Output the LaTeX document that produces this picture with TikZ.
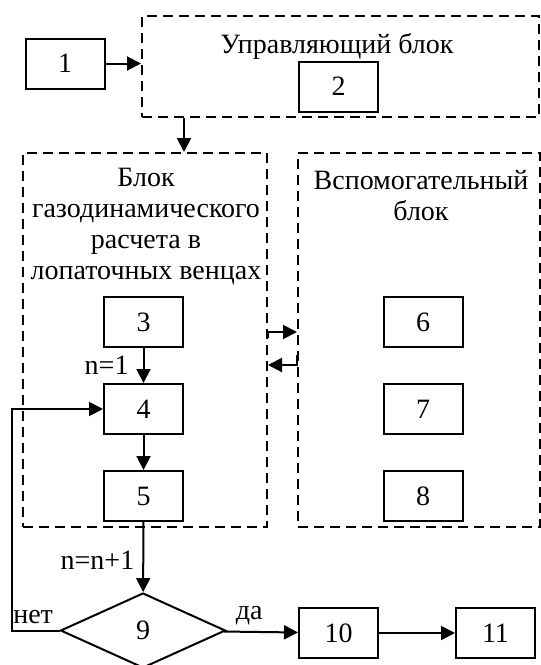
\documentclass[tikz,border=0pt]{standalone}
\usepackage{fontspec}
\setmainfont{Liberation Serif}
\usetikzlibrary{arrows.meta,positioning,shapes.geometric}
\tikzset{
    %Define standard arrow tip
    >={Triangle[length=7pt,width=7pt]},
    %Define style for boxes
    numbox/.style={
           rectangle,
           draw=black, line width=1pt,
           minimum width=39.5pt,
           minimum height=25pt,
           font=\fontsize{14}{15.5}\selectfont,
           text centered},
    groupbox/.style={
           rectangle,
           draw=black, line width=1pt,
           dash pattern=on 5pt off 3pt,
           inner sep=0pt},
    choice/.style={
           diamond,
           draw=black, line width=1pt,
           minimum width=82.5pt,
           minimum height=37.5pt,
           aspect=2.2,
           inner sep=0pt,
           font=\fontsize{14}{15.5}\selectfont},
    lbl/.style={
           font=\fontsize{14}{15.5}\selectfont,
           inner sep=0pt},
    % Define arrow style
    pil/.style={
           ->,
           line width=1pt}
}

\begin{document}
\begin{tikzpicture}[x=0.5pt,y=-0.5pt,node distance=17.5pt]
\useasboundingbox (0,0) rectangle (541,665);
 %groups
\node[groupbox, minimum width=198.5pt, minimum height=50.5pt] (ctrl) at (340.5,66.5) {};
\node[groupbox, minimum width=122pt, minimum height=187pt] (gasdyn) at (145,340) {};
\node[groupbox, minimum width=121pt, minimum height=187pt] (aux) at (419,340) {};
\node[lbl] (tctrl) at (337,46) {Управляющий блок};
\node[lbl, align=center] (tgas) at (146,227) {Блок\\газодинамического\\расчета в\\лопаточных венцах};
\node[lbl, align=center] (taux) at (421,196) {Вспомогательный\\блок};
 %nodes
\node[numbox] (1) at (65,63.5) {1};
\node[numbox] (2) at (338.5,86.5) {2};
\node[numbox] (3) at (143.5,322) {3};
\node[numbox, below=of 3] (4) {4};
\node[numbox, below=of 4] (5) {5};
\node[numbox] (6) at (423,322) {6};
\node[numbox, below=of 6] (7) {7};
\node[numbox, below=of 7] (8) {8};
\node[choice] (9) at (143,630.5) {9};
\node[numbox] (10) at (338.5,633) {10};
\node[numbox, right=38pt of 10] (11) {11};
 %edges
\draw[pil] (1) -- (1 -| ctrl.west);
\draw[pil] ([xshift=21.5pt]ctrl.south west) -- ([xshift=81pt]gasdyn.north west);
\draw[pil] ([yshift=1pt]gasdyn.east) |- ([yshift=4pt]aux.west);
\draw[pil] ([yshift=-7.5pt]aux.west) |- ([yshift=-12.5pt]gasdyn.east);
\draw[pil] (3) -- node[lbl, left=7pt] {n=1} (4);
\draw[pil] (4) -- (5);
\draw[pil] (5) -- node[lbl, left=4pt, pos=0.55] {n=n+1} (9);
\draw[pil] (9) -- node[lbl, above=3pt, pos=0.34] {да} (10);
\draw[pil] (10) -- (11);
\draw[pil] (9.west) -- node[lbl, above=3pt, pos=0.55] {нет} ++(-48,0) |- (4);
\end{tikzpicture}
\end{document}
